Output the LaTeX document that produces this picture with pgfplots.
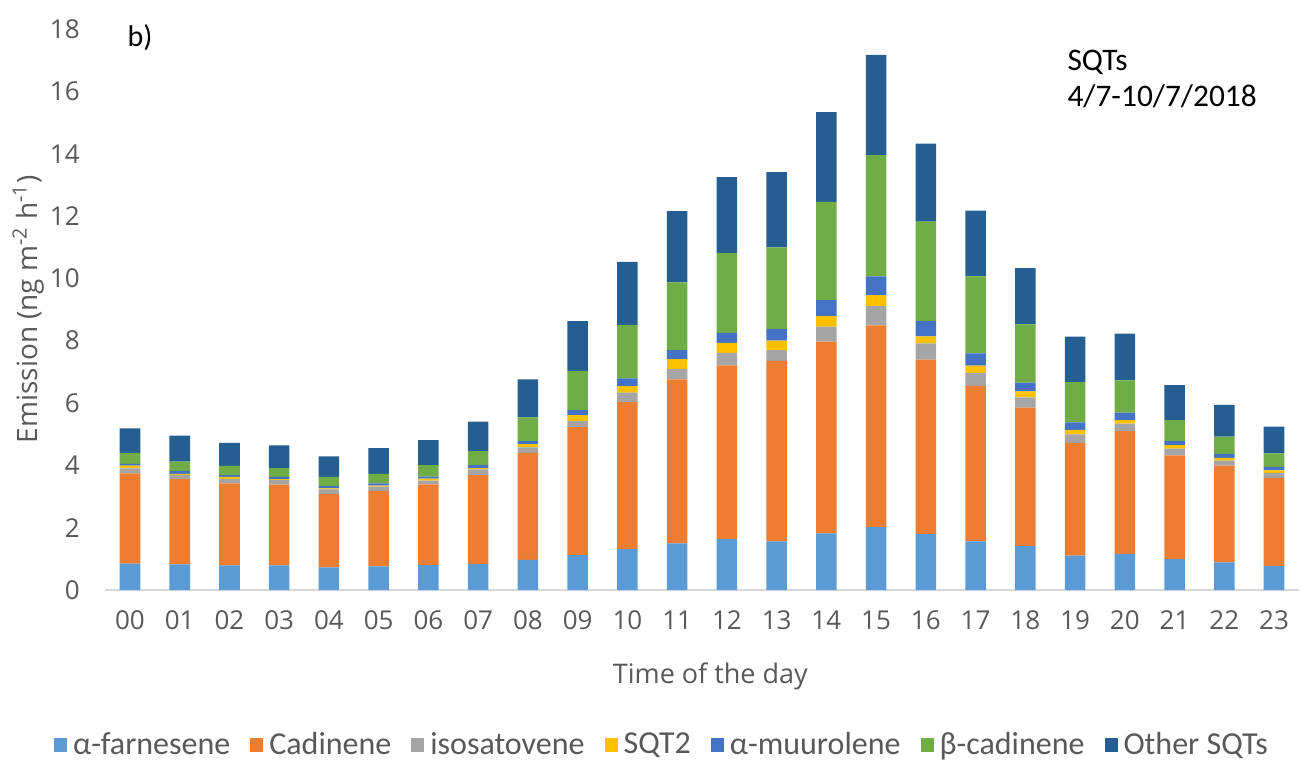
\documentclass[border=0pt]{standalone}
\usepackage{fontspec}
\setmainfont{Carlito}
\newfontfamily\osans{Open Sans}
\usepackage{pgfplots}
\pgfplotsset{compat=1.18}
\usepackage{pgfplotstable}
\definecolor{cfarn}{HTML}{5B9BD5}
\definecolor{ccad}{HTML}{ED7D31}
\definecolor{ciso}{HTML}{A5A5A5}
\definecolor{csqt}{HTML}{FFC000}
\definecolor{cmuu}{HTML}{4472C4}
\definecolor{cbcad}{HTML}{70AD47}
\definecolor{coth}{HTML}{255E91}
\definecolor{txtgray}{HTML}{595959}
\pgfplotstableread{
x farn cad iso sqt muu bcad oth
0 0.85 2.89 0.16 0.09 0.06 0.35 0.79
1 0.82 2.74 0.13 0.04 0.09 0.30 0.83
2 0.79 2.63 0.14 0.07 0.06 0.29 0.74
3 0.79 2.59 0.15 0.03 0.07 0.28 0.73
4 0.73 2.35 0.15 0.03 0.07 0.30 0.66
5 0.76 2.42 0.14 0.03 0.07 0.31 0.82
6 0.80 2.59 0.12 0.06 0.07 0.37 0.80
7 0.83 2.86 0.18 0.04 0.10 0.45 0.94
8 0.97 3.43 0.18 0.10 0.10 0.76 1.22
9 1.13 4.10 0.19 0.19 0.16 1.26 1.60
10 1.31 4.72 0.30 0.21 0.25 1.72 2.02
11 1.50 5.26 0.33 0.32 0.29 2.17 2.29
12 1.63 5.58 0.40 0.32 0.32 2.56 2.44
13 1.56 5.79 0.35 0.30 0.37 2.62 2.42
14 1.82 6.15 0.48 0.34 0.51 3.15 2.88
15 2.02 6.47 0.62 0.35 0.60 3.89 3.22
16 1.79 5.60 0.52 0.23 0.49 3.19 2.50
17 1.56 4.99 0.42 0.23 0.39 2.47 2.11
18 1.42 4.43 0.33 0.19 0.28 1.87 1.81
19 1.10 3.62 0.27 0.15 0.24 1.29 1.46
20 1.16 3.94 0.24 0.11 0.24 1.04 1.50
21 0.99 3.33 0.22 0.11 0.13 0.67 1.12
22 0.89 3.10 0.16 0.09 0.13 0.55 1.02
23 0.77 2.83 0.16 0.08 0.11 0.43 0.86
}\data
\begin{document}
\begin{tikzpicture}
\useasboundingbox (-52.55pt,-85.5pt) rectangle (602.45pt,295pt);
\begin{axis}[
  at={(0,0)}, anchor=south west,
  scale only axis, width=596.9pt, height=280.5pt,
  ybar stacked, bar width=10.3pt,
  xmin=-0.5, xmax=23.5, ymin=0, ymax=18,
  xtick={0,...,23},
  xticklabels={00,01,02,03,04,05,06,07,08,09,10,11,12,13,14,15,16,17,18,19,20,21,22,23},
  ytick={0,2,...,18},
  axis x line*=bottom, axis y line*=left,
  x axis line style={draw=black!15, line width=0.8pt},
  y axis line style={draw=none},
  major tick length=0pt,
  /pgf/number format/assume math mode=true,
  tick label style={font=\osans\fontsize{13}{15}\selectfont, text=txtgray},
  xticklabel style={anchor=center, inner sep=0pt, yshift=-15pt},
  yticklabel style={anchor=east, inner sep=0pt, xshift=-12.5pt},
  xlabel={Time of the day},
  ylabel={Emission (ng m\textsuperscript{-2} h\textsuperscript{-1})},
  xlabel style={font=\osans\fontsize{13.5}{15}\selectfont, text=txtgray, at={(axis description cs:0.507,-0.1533)}, anchor=center},
  ylabel style={font=\osans\fontsize{14}{15}\selectfont, text=txtgray, at={(axis description cs:-0.0645,0.5)}, anchor=center},
  legend columns=7,
  legend style={at={(axis description cs:0.4673,-0.2763)}, anchor=center, draw=none,
    font=\fontsize{16}{18}\selectfont, text=txtgray,
    /tikz/every even column/.append style={column sep=8pt}},
  legend image code/.code={\fill[#1] (0pt,-3.6pt) rectangle (6.5pt,3.4pt); \path (7.5pt,0pt);},
  every axis plot/.append style={draw=none},
]
\addplot[fill=cfarn] table[x=x,y=farn]{\data};
\addplot[fill=ccad] table[x=x,y=cad]{\data};
\addplot[fill=ciso] table[x=x,y=iso]{\data};
\addplot[fill=csqt] table[x=x,y=sqt]{\data};
\addplot[fill=cmuu] table[x=x,y=muu]{\data};
\addplot[fill=cbcad] table[x=x,y=bcad]{\data};
\addplot[fill=coth] table[x=x,y=oth]{\data};
\legend{α-farnesene,Cadinene,isosatovene,SQT2,α-muurolene,β-cadinene,Other SQTs}
\end{axis}
\node[anchor=west, inner sep=0pt, font=\fontsize{15}{17}\selectfont] at (11pt,276pt) {b)};
\node[anchor=west, inner sep=0pt, font=\fontsize{15.7}{17}\selectfont] at (481pt,263.6pt) {SQTs};
\node[anchor=west, inner sep=0pt, font=\fontsize{15.7}{17}\selectfont] at (481pt,247pt) {4/7-10/7/2018};
\end{tikzpicture}
\end{document}
